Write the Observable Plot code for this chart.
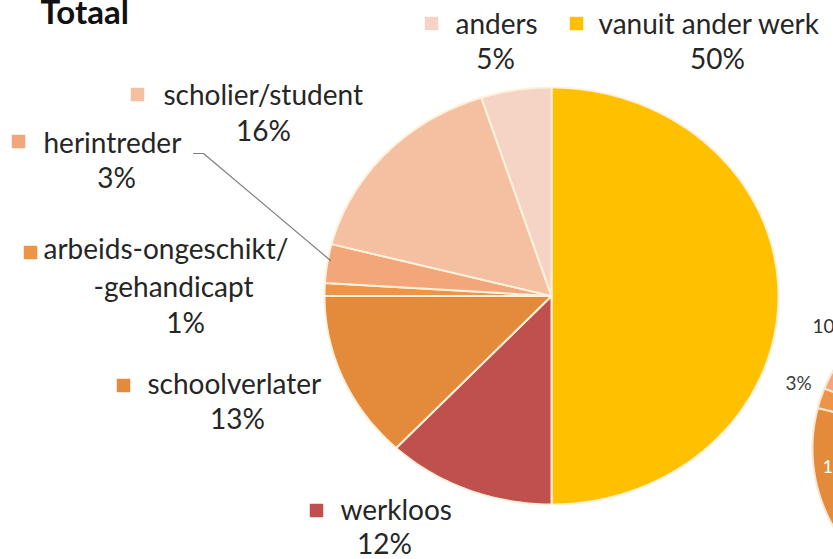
<!DOCTYPE html>
<html><head><meta charset="utf-8">
<script src="https://cdn.jsdelivr.net/npm/d3@7"></script>
<script src="https://cdn.jsdelivr.net/npm/@observablehq/plot@0.6"></script>
<style>
html,body{margin:0;padding:0;background:#fff;overflow:hidden;}
#chart svg{display:block;overflow:hidden !important;}
</style></head><body><div id="chart"></div>
<script>
// ---- data ----
const categories = ["vanuit ander werk","werkloos","schoolverlater","arbeids-ongeschikt/-gehandicapt","herintreder","scholier/student","anders"];
const values = [50, 12, 13, 1, 3, 16, 5];
const percentLabels = ["50%","12%","13%","1%","3%","16%","5%"];
const colors = ["#FFC000","#C0504D","#E38A3B","#EE9446","#F2A679","#F5BFA1","#F6D4C5"];
// second pie, only its left edge is visible at the right border
const values2 = [45, 13, 21, 2, 3, 10, 6];
const labels2 = ["10%","3%","1"]; // visible fragments

// ---- layout ----
const CX = 551, CY = 295.5, RX = 227, RY = 208.5;
const ux = px => (px - CX) / RX;
const uy = py => (CY - py) / RY;

function slices(vals, cx, cy, rx, ry, tag) {
  const arcs = d3.pie().sort(null)(vals);
  const pts = [];
  arcs.forEach((a, i) => {
    const key = tag + i, cat = categories[i];
    pts.push({key, cat, x: cx, y: cy});
    const n = Math.max(2, Math.ceil((a.endAngle - a.startAngle) / (Math.PI / 180)));
    for (let k = 0; k <= n; k++) {
      const t = a.startAngle + (a.endAngle - a.startAngle) * k / n;
      pts.push({key, cat, x: cx + rx * Math.sin(t), y: cy + ry * Math.cos(t)});
    }
    pts.push({key, cat, x: cx, y: cy});
  });
  return pts;
}
const pie1 = slices(values, 0, 0, 1, 1, "a");
const pie2 = slices(values2, ux(982), uy(448), 170 / RX, 163 / RY, "b");

// label layout in pixels: [square x,y], [name lines], [percent x,y]
const labelLayout = [
  {sq:[576,23], lines:[[598,33,"start"]], pct:[717,68]},
  {sq:[316,510], lines:[[340,519,"start"]], pct:[384,553]},
  {sq:[123,385], lines:[[147,393,"start"]], pct:[237,428]},
  {sq:[30,252], lines:[[43,258,"start"],[173,296,"middle"]], pct:[185,332]},
  {sq:[18,141], lines:[[43,152,"start"]], pct:[116,187]},
  {sq:[137,94], lines:[[163,104,"start"]], pct:[263,140]},
  {sq:[431,23], lines:[[455,33,"start"]], pct:[495,68]}
];
const nameLines = categories.map(c => c.includes("/-") ? [c.split("/-")[0] + "/", "-" + c.split("/-")[1]] : [c]);

const squares = labelLayout.map((l, i) => ({cat: categories[i], x: ux(l.sq[0]), y: uy(l.sq[1])}));
const texts = [];
labelLayout.forEach((l, i) => {
  l.lines.forEach((p, j) => texts.push({text: nameLines[i][j], x: ux(p[0]), y: uy(p[1]), anchor: p[2]}));
  texts.push({text: percentLabels[i], x: ux(l.pct[0]), y: uy(l.pct[1]), anchor: "middle"});
});
const leader = [[193,153],[203,153],[330,260]].map(([a,b]) => ({x: ux(a), y: uy(b)}));

const font = "Lato, 'Open Sans', sans-serif";
const textStart = texts.filter(d => d.anchor === "start");
const textMid = texts.filter(d => d.anchor === "middle");

const chart = Plot.plot({
  width: 833, height: 559, margin: 0,
  style: {background: "#fff", fontFamily: font},
  x: {domain: [-1, 1], range: [CX - RX, CX + RX], axis: null},
  y: {domain: [-1, 1], range: [CY + RY, CY - RY], axis: null},
  color: {domain: categories, range: colors},
  marks: [
    Plot.line(pie2, {x: "x", y: "y", z: "key", fill: "cat", stroke: "#FCE7D2", strokeWidth: 2, strokeLinejoin: "round", clip: true}),
    Plot.line(pie1, {x: "x", y: "y", z: "key", fill: "cat", stroke: "#FFF1DC", strokeWidth: 2, strokeLinejoin: "round", clip: true}),
    Plot.line(leader, {x: "x", y: "y", stroke: "#7f7f7f", strokeWidth: 1.2}),
    Plot.dot(squares, {x: "x", y: "y", symbol: "square", r: 7.6, fill: "cat", stroke: null}),
    Plot.text(textStart, {x: "x", y: "y", text: "text", textAnchor: "start", lineAnchor: "bottom", fontSize: 28, fill: "#262626"}),
    Plot.text(textMid, {x: "x", y: "y", text: "text", textAnchor: "middle", lineAnchor: "bottom", fontSize: 28, fill: "#262626"}),
    Plot.text(["Totaal"], {x: ux(40), y: uy(23), text: d => d, textAnchor: "start", lineAnchor: "bottom", fontSize: 33, fontWeight: "bold", fill: "#111"}),
    Plot.text([labels2[0]], {x: ux(812), y: uy(332), text: d => d, textAnchor: "start", lineAnchor: "bottom", fontSize: 19, fill: "#333", clip: true}),
    Plot.text([labels2[1]], {x: ux(785), y: uy(389), text: d => d, textAnchor: "start", lineAnchor: "bottom", fontSize: 19, fill: "#404040"}),
    Plot.text([labels2[2]], {x: ux(822), y: uy(472), text: d => d, textAnchor: "start", lineAnchor: "bottom", fontSize: 18, fill: "#fff", clip: true})
  ]
});
document.getElementById("chart").appendChild(chart);
</script></body></html>
